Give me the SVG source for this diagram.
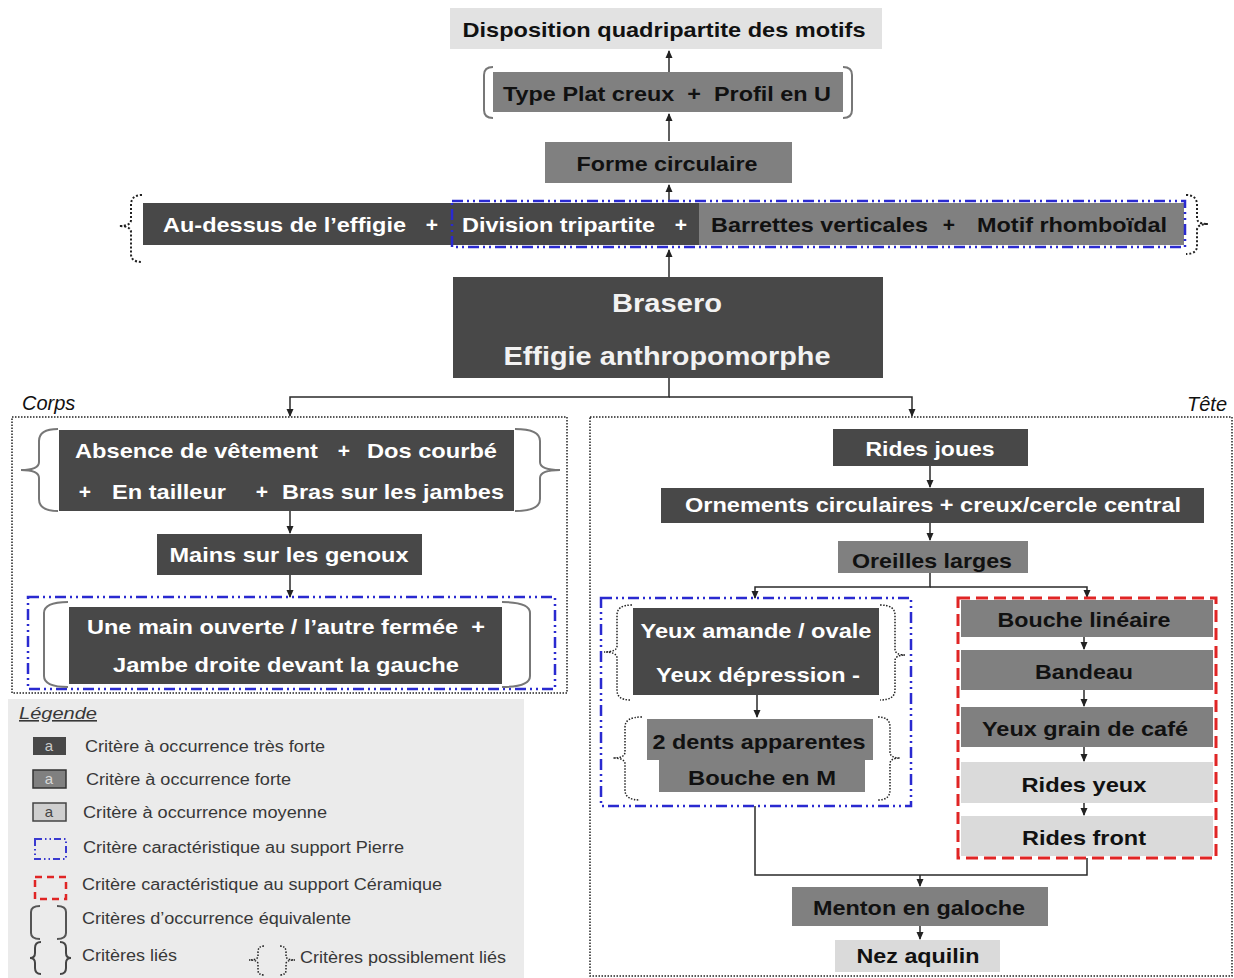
<svg xmlns="http://www.w3.org/2000/svg" width="1234" height="978" viewBox="0 0 1234 978">
<defs>
<marker id="ah" markerWidth="8" markerHeight="8" refX="7" refY="4" orient="auto" markerUnits="userSpaceOnUse"><path d="M0,0.5 L8,4 L0,7.5 z" fill="#222"/></marker>
<style>
.dk{fill:#484848}
.md{fill:#808080}
.lt{fill:#dadada}
.tw{fill:#fff;font-family:"Liberation Sans",Arial,sans-serif;font-weight:bold;font-size:21px;white-space:pre}
.tb{fill:#111;font-family:"Liberation Sans",Arial,sans-serif;font-weight:bold;font-size:21px;white-space:pre}
.big{fill:#f2f2f2;font-family:"Liberation Sans",Arial,sans-serif;font-weight:bold;font-size:26px}
.lg{fill:#383838;font-family:"Liberation Sans",Arial,sans-serif;font-size:16px}
.it{fill:#111;font-family:"Liberation Sans",Arial,sans-serif;font-style:italic;font-size:20px}
.con{fill:none;stroke:#2a2a2a;stroke-width:1.5}
.blue{fill:none;stroke:#2a2ad0;stroke-width:2.5;stroke-dasharray:11 4 2 4 2 4}
.red{fill:none;stroke:#e02525;stroke-width:3;stroke-dasharray:12 6}
.dot{fill:none;stroke:#222;stroke-width:1.5;stroke-dasharray:1.5 1.5}
.dotb{fill:none;stroke:#222;stroke-width:2;stroke-dasharray:2 2}
.brk{fill:none;stroke:#777;stroke-width:2}
</style>
</defs>
<rect width="1234" height="978" fill="#fff"/>

<g id="corps-group">
<text class="it" x="22" y="410">Corps</text>
<rect class="dot" x="12" y="417" width="555" height="276"/>
</g>
<g id="tete-group">
<text class="it" x="1187" y="411">Tête</text>
<rect class="dot" x="590" y="417" width="642" height="559"/>
</g>

<g id="connectors">
<path class="con" d="M669,72 V51" marker-end="url(#ah)"/>
<path class="con" d="M669,141 V114" marker-end="url(#ah)"/>
<path class="con" d="M669,201 V185" marker-end="url(#ah)"/>
<path class="con" d="M669,277 V250" marker-end="url(#ah)"/>
<path class="con" d="M669,378 V397 H290 V416" marker-end="url(#ah)"/>
<path class="con" d="M669,397 H912 V416" marker-end="url(#ah)"/>
<path class="con" d="M290,511 V533" marker-end="url(#ah)"/>
<path class="con" d="M290,575 V597" marker-end="url(#ah)"/>
<path class="con" d="M930,466 V487" marker-end="url(#ah)"/>
<path class="con" d="M930,523 V540" marker-end="url(#ah)"/>
<path class="con" d="M930,573 V587 H755 V598" marker-end="url(#ah)"/>
<path class="con" d="M930,587 H1087 V597" marker-end="url(#ah)"/>
<path class="con" d="M757,695 V717" marker-end="url(#ah)"/>
<path class="con" d="M1084,634 V649" marker-end="url(#ah)"/>
<path class="con" d="M1084,688 V706" marker-end="url(#ah)"/>
<path class="con" d="M1084,744 V761" marker-end="url(#ah)"/>
<path class="con" d="M1084,800 V815" marker-end="url(#ah)"/>
<path class="con" d="M755,806 V875 H1087 V858"/>
<path class="con" d="M920,875 V886" marker-end="url(#ah)"/>
<path class="con" d="M920,926 V939" marker-end="url(#ah)"/>
</g>

<g id="n-disposition">
<rect x="450" y="8" width="432" height="41" fill="#e2e2e2"/>
<text class="tb" x="664" y="37" text-anchor="middle" textLength="403" lengthAdjust="spacingAndGlyphs">Disposition quadripartite des motifs</text>
</g>
<g id="n-typeplat">
<path class="brk" d="M493,67 Q484,67 484,75 L484,110 Q484,118 493,118"/>
<path class="brk" d="M843,67 Q852,67 852,75 L852,110 Q852,118 843,118"/>
<rect class="md" x="493" y="72" width="350" height="40"/>
<text class="tb" x="667" y="101" text-anchor="middle" textLength="328" lengthAdjust="spacingAndGlyphs">Type Plat creux  +  Profil en U</text>
</g>
<g id="n-forme">
<rect class="md" x="545" y="142" width="247" height="41"/>
<text class="tb" x="667" y="171" text-anchor="middle" textLength="181" lengthAdjust="spacingAndGlyphs">Forme circulaire</text>
</g>
<g id="n-row">
<path class="dotb" d="M142,195 Q131,195 131,205 L131,220 Q131,226 119,226 Q131,226 131,232 L131,254 Q131,262 142,262"/>
<path class="dotb" d="M1186,195 Q1197,195 1197,205 L1197,218 Q1197,224 1208,224 Q1197,224 1197,230 L1197,246 Q1197,254 1186,254"/>
<rect class="dk" x="143" y="203" width="556" height="42"/>
<rect class="md" x="699" y="203" width="485" height="42"/>
<rect class="blue" x="452" y="201" width="733" height="46"/>
<text class="tw" x="163" y="232" textLength="243" lengthAdjust="spacingAndGlyphs">Au-dessus de l’effigie</text>
<text class="tw" x="432" y="232" text-anchor="middle">+</text>
<text class="tw" x="462" y="232" textLength="193" lengthAdjust="spacingAndGlyphs">Division tripartite</text>
<text class="tw" x="681" y="232" text-anchor="middle">+</text>
<text class="tb" x="711" y="232" textLength="217" lengthAdjust="spacingAndGlyphs">Barrettes verticales</text>
<text class="tb" x="949" y="232" text-anchor="middle">+</text>
<text class="tb" x="977" y="232" textLength="190" lengthAdjust="spacingAndGlyphs">Motif rhomboïdal</text>
</g>
<g id="n-brasero">
<rect class="dk" x="453" y="277" width="430" height="101"/>
<text class="big" x="667" y="312" text-anchor="middle" textLength="110" lengthAdjust="spacingAndGlyphs">Brasero</text>
<text class="big" x="667" y="365" text-anchor="middle" textLength="327" lengthAdjust="spacingAndGlyphs">Effigie anthropomorphe</text>
</g>

<g id="n-absence">
<path class="brk" d="M58,429 Q39,429 39,441 L39,462 Q39,470 21,470 Q39,470 39,478 L39,499 Q39,511 58,511"/>
<path class="brk" d="M515,429 Q540,429 540,441 L540,462 Q540,470 560,470 Q540,470 540,478 L540,499 Q540,511 515,511"/>
<rect class="dk" x="59" y="430" width="455" height="81"/>
<text class="tw" x="75" y="458" textLength="243" lengthAdjust="spacingAndGlyphs">Absence de vêtement</text>
<text class="tw" x="344" y="458" text-anchor="middle">+</text>
<text class="tw" x="367" y="458" textLength="130" lengthAdjust="spacingAndGlyphs">Dos courbé</text>
<text class="tw" x="85" y="499" text-anchor="middle">+</text>
<text class="tw" x="112" y="499" textLength="114" lengthAdjust="spacingAndGlyphs">En tailleur</text>
<text class="tw" x="262" y="499" text-anchor="middle">+</text>
<text class="tw" x="282" y="499" textLength="222" lengthAdjust="spacingAndGlyphs">Bras sur les jambes</text>
</g>
<g id="n-mains">
<rect class="dk" x="157" y="534" width="265" height="41"/>
<text class="tw" x="289" y="562" text-anchor="middle" textLength="239" lengthAdjust="spacingAndGlyphs">Mains sur les genoux</text>
</g>
<g id="n-unemain">
<rect class="blue" x="28" y="597" width="527" height="92"/>
<path class="brk" d="M68,602 Q44,602 44,613 L44,676 Q44,687 68,687"/>
<path class="brk" d="M502,602 Q530,602 530,613 L530,676 Q530,687 502,687"/>
<rect class="dk" x="69" y="607" width="433" height="77"/>
<text class="tw" x="87" y="634" textLength="398" lengthAdjust="spacingAndGlyphs">Une main ouverte / l’autre fermée  +</text>
<text class="tw" x="286" y="672" text-anchor="middle" textLength="346" lengthAdjust="spacingAndGlyphs">Jambe droite devant la gauche</text>
</g>

<g id="legend">
<rect x="8" y="699" width="516" height="279" fill="#ebebeb"/>
<text class="lg" x="19" y="719" font-style="italic" text-decoration="underline" textLength="78" lengthAdjust="spacingAndGlyphs">Légende</text>
<rect x="33" y="737" width="33" height="18" fill="#484848"/>
<text x="49" y="751" text-anchor="middle" font-family="Liberation Sans, sans-serif" font-size="15" fill="#ccc">a</text>
<text class="lg" x="85" y="752" textLength="240" lengthAdjust="spacingAndGlyphs">Critère à occurrence très forte</text>
<rect x="33" y="770" width="33" height="18" fill="#808080" stroke="#333" stroke-width="1.5"/>
<text x="49" y="784" text-anchor="middle" font-family="Liberation Sans, sans-serif" font-size="15" fill="#d8d8d8">a</text>
<text class="lg" x="86" y="785" textLength="205" lengthAdjust="spacingAndGlyphs">Critère à occurrence forte</text>
<rect x="33" y="803" width="33" height="18" fill="#cfcfcf" stroke="#444" stroke-width="1.5"/>
<text x="49" y="817" text-anchor="middle" font-family="Liberation Sans, sans-serif" font-size="15" fill="#444">a</text>
<text class="lg" x="83" y="818" textLength="244" lengthAdjust="spacingAndGlyphs">Critère à occurrence moyenne</text>
<rect x="35" y="839" width="31" height="20" fill="none" stroke="#3a3ad0" stroke-width="2" stroke-dasharray="7 3 1.5 3 1.5 3"/>
<text class="lg" x="83" y="853" textLength="321" lengthAdjust="spacingAndGlyphs">Critère caractéristique au support Pierre</text>
<rect x="35" y="877" width="31" height="22" fill="none" stroke="#e02525" stroke-width="2.5" stroke-dasharray="7 5"/>
<text class="lg" x="82" y="890" textLength="360" lengthAdjust="spacingAndGlyphs">Critère caractéristique au support Céramique</text>
<path fill="none" stroke="#555" stroke-width="2" d="M40,906 Q31,906 31,912 L31,933 Q31,939 40,939"/>
<path fill="none" stroke="#555" stroke-width="2" d="M57,906 Q66,906 66,912 L66,933 Q66,939 57,939"/>
<text class="lg" x="82" y="924" textLength="269" lengthAdjust="spacingAndGlyphs">Critères d’occurrence équivalente</text>
<path fill="none" stroke="#444" stroke-width="2" d="M41,942 Q35,942 35,948 L35,953 Q35,958 30,958 Q35,958 35,963 L35,968 Q35,974 41,974"/>
<path fill="none" stroke="#444" stroke-width="2" d="M60,942 Q66,942 66,948 L66,953 Q66,958 71,958 Q66,958 66,963 L66,968 Q66,974 60,974"/>
<text class="lg" x="82" y="961" textLength="95" lengthAdjust="spacingAndGlyphs">Critères liés</text>
<path class="dot" d="M264,946 Q258,946 258,952 L258,956 Q258,960 249,960 Q258,960 258,964 L258,970 Q258,975 264,975"/>
<path class="dot" d="M280,946 Q286,946 286,952 L286,956 Q286,960 295,960 Q286,960 286,964 L286,970 Q286,975 280,975"/>
<text class="lg" x="300" y="963" textLength="206" lengthAdjust="spacingAndGlyphs">Critères possiblement liés</text>
</g>

<g id="n-ridesjoues">
<rect class="dk" x="833" y="429" width="195" height="37"/>
<text class="tw" x="930" y="456" text-anchor="middle" textLength="129" lengthAdjust="spacingAndGlyphs">Rides joues</text>
</g>
<g id="n-ornements">
<rect class="dk" x="661" y="488" width="543" height="35"/>
<text class="tw" x="933" y="512" text-anchor="middle" textLength="496" lengthAdjust="spacingAndGlyphs">Ornements circulaires + creux/cercle central</text>
</g>
<g id="n-oreilles">
<rect class="md" x="838" y="541" width="190" height="32"/>
<text class="tb" x="932" y="568" text-anchor="middle" textLength="160" lengthAdjust="spacingAndGlyphs">Oreilles larges</text>
</g>
<g id="n-pierre-group">
<rect class="blue" x="601" y="598" width="310" height="208"/>
</g>
<g id="n-yeux">
<path class="dot" d="M632,605 Q617,605 617,615 L617,646 Q617,652 604,652 Q617,652 617,658 L617,690 Q617,700 630,700"/>
<path class="dot" d="M880,605 Q895,605 895,615 L895,649 Q895,655 905,655 Q895,655 895,661 L895,690 Q895,700 880,700"/>
<rect class="dk" x="633" y="608" width="246" height="87"/>
<text class="tw" x="756" y="638" text-anchor="middle" textLength="231" lengthAdjust="spacingAndGlyphs">Yeux amande / ovale</text>
<text class="tw" x="758" y="682" text-anchor="middle" textLength="204" lengthAdjust="spacingAndGlyphs">Yeux dépression -</text>
</g>
<g id="n-dents">
<path class="dot" d="M642,717 Q625,717 625,727 L625,752 Q625,758 613,758 Q625,758 625,764 L625,790 Q625,800 640,800"/>
<path class="dot" d="M878,717 Q890,717 890,727 L890,752 Q890,758 900,758 Q890,758 890,764 L890,790 Q890,800 878,800"/>
<path class="md" d="M647,719 H873 V760 H865 V792 H659 V760 H647 Z"/>
<text class="tb" x="759" y="749" text-anchor="middle" textLength="213" lengthAdjust="spacingAndGlyphs">2 dents apparentes</text>
<text class="tb" x="762" y="785" text-anchor="middle" textLength="148" lengthAdjust="spacingAndGlyphs">Bouche en M</text>
</g>
<g id="n-ceramique-group">
<rect class="red" x="958" y="598" width="258" height="260"/>
</g>
<g id="n-bouchelin">
<rect class="md" x="961" y="600" width="252" height="37"/>
<text class="tb" x="1084" y="627" text-anchor="middle" textLength="173" lengthAdjust="spacingAndGlyphs">Bouche linéaire</text>
</g>
<g id="n-bandeau">
<rect class="md" x="961" y="650" width="252" height="40"/>
<text class="tb" x="1084" y="679" text-anchor="middle" textLength="98" lengthAdjust="spacingAndGlyphs">Bandeau</text>
</g>
<g id="n-grain">
<rect class="md" x="961" y="707" width="252" height="40"/>
<text class="tb" x="1085" y="736" text-anchor="middle" textLength="206" lengthAdjust="spacingAndGlyphs">Yeux grain de café</text>
</g>
<g id="n-ridesyeux">
<rect class="lt" x="961" y="762" width="252" height="41"/>
<text class="tb" x="1084" y="792" text-anchor="middle" textLength="125" lengthAdjust="spacingAndGlyphs">Rides yeux</text>
</g>
<g id="n-ridesfront">
<rect class="lt" x="961" y="816" width="252" height="40"/>
<text class="tb" x="1084" y="845" text-anchor="middle" textLength="124" lengthAdjust="spacingAndGlyphs">Rides front</text>
</g>
<g id="n-menton">
<rect class="md" x="792" y="887" width="256" height="39"/>
<text class="tb" x="919" y="915" text-anchor="middle" textLength="212" lengthAdjust="spacingAndGlyphs">Menton en galoche</text>
</g>
<g id="n-nez">
<rect class="lt" x="835" y="940" width="165" height="32"/>
<text class="tb" x="918" y="963" text-anchor="middle" textLength="123" lengthAdjust="spacingAndGlyphs">Nez aquilin</text>
</g>
</svg>
